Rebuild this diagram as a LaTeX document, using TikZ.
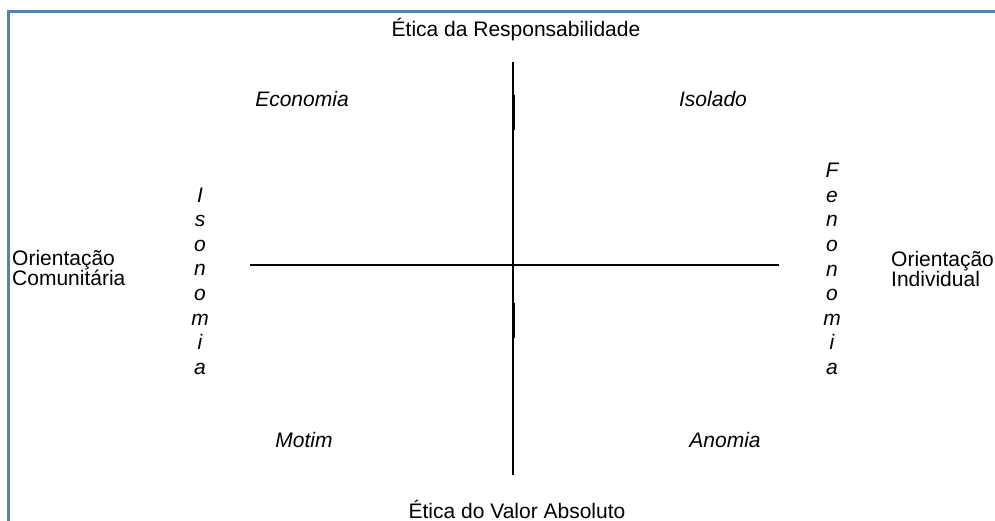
\documentclass[tikz,border=0pt]{standalone}
\usepackage{fontspec}
\setmainfont{Liberation Sans}
\definecolor{framecol}{HTML}{4F81BD}
\begin{document}
\begin{tikzpicture}[x=1pt,y=-1pt,
  lbl/.style={inner sep=0pt,font=\fontsize{21}{20}\selectfont},
  quad/.style={inner sep=0pt,font=\fontsize{21}{20}\selectfont\itshape},
  vert/.style={inner sep=0pt,align=center,font=\fontsize{21}{24.6}\selectfont\itshape},
  axis/.style={draw=black,line width=1.2pt},
  frame/.style={draw=framecol,line width=2.6pt}]
\useasboundingbox (0,0) rectangle (995,521);
% frame
\coordinate (fTL) at (8.2,11.3);
\coordinate (fTR) at (995,11.3);
\coordinate (fBL) at (8.2,521);
\draw[frame] (fBL) -- (fTL) -- (fTR);
% axes
\coordinate (vT) at (513,62);
\coordinate (vB) at (513,475);
\coordinate (hL) at (250,265);
\coordinate (hR) at (779,265);
\draw[axis] (vT) -- (vB);
\draw[axis] (hL) -- (hR);
\coordinate (s1a) at (513.5,95);
\coordinate (s1b) at (513.5,130);
\coordinate (s2a) at (513.5,303);
\coordinate (s2b) at (513.5,338);
\draw[black,line width=2pt] (s1a) -- (s1b);
\draw[black,line width=2pt] (s2a) -- (s2b);
% labels
\node[lbl,anchor=base] (top) at (516,37) {Ética da Responsabilidade};
\node[lbl,anchor=base] (bot) at (517,518) {Ética do Valor Absoluto};
\node[lbl,anchor=west,align=left] (lft) at (12,268) {Orientação\\Comunitária};
\node[lbl,anchor=west,align=left] (rgt) at (891,269) {Orientação\\Individual};
\node[quad,anchor=base] (eco) at (302,107) {Economia};
\node[quad,anchor=base] (iso) at (713,107) {Isolado};
\node[quad,anchor=base] (mot) at (304,447) {Motim};
\node[quad,anchor=base] (ano) at (725,447) {Anomia};
\node[vert] (ison) at (200,281) {I\\s\\o\\n\\o\\m\\i\\a};
\node[vert] (fen) at (832,269) {F\\e\\n\\o\\n\\o\\m\\i\\a};
\end{tikzpicture}
\end{document}
